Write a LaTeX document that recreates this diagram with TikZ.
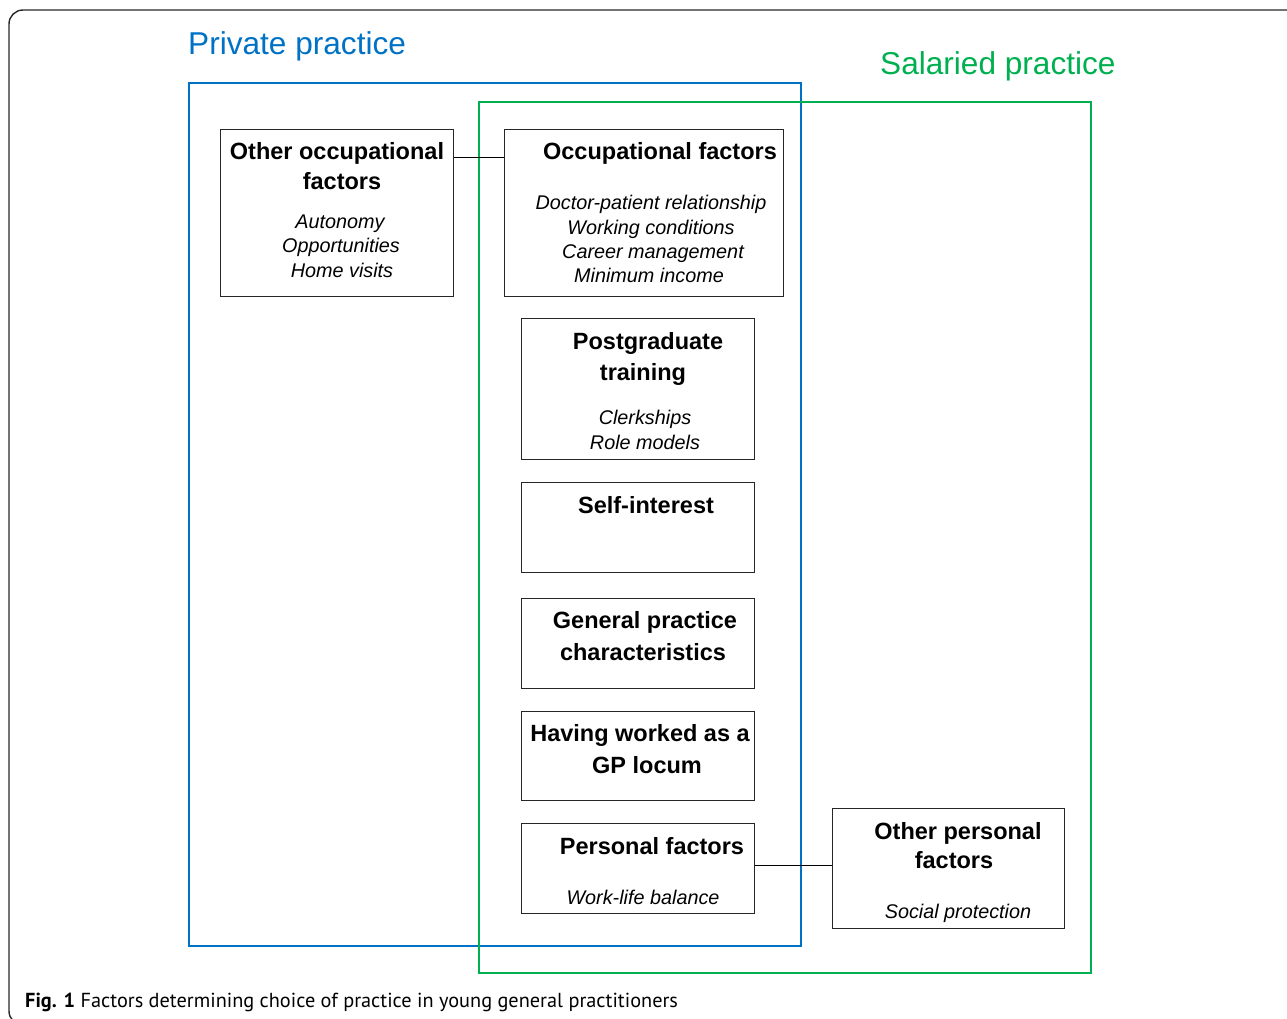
\documentclass[tikz,border=0pt]{standalone}
\usepackage{fontspec}
\setmainfont{Liberation Sans}
\newfontfamily\capfont{PT Sans}
\definecolor{ppblue}{RGB}{0,114,198}
\definecolor{spgreen}{RGB}{0,176,80}
\definecolor{frame}{RGB}{40,40,40}
\begin{document}
\begin{tikzpicture}[x=1pt,y=-1pt,
  box/.style={draw=black!85,line width=1pt,anchor=north west,inner sep=0pt},
  ttl/.style={anchor=base,inner sep=0pt,font=\fontsize{23.5}{28}\selectfont\bfseries},
  itm/.style={anchor=base,inner sep=0pt,font=\fontsize{19.8}{24}\selectfont\itshape},
  grp/.style={anchor=base west,inner sep=0pt,font=\fontsize{31.6}{36}\selectfont},
  conn/.style={draw=black,line width=1pt}]
\useasboundingbox (0,0) rectangle (1287,1018);
% outer frame
\draw[frame,line width=1.4pt,rounded corners=14pt] (1300,10) -- (9,10) -- (9,1025) -- (60,1025);
% group titles
\node[grp,text=ppblue] (tpriv) at (188,54) {Private practice};
\node[grp,text=spgreen] (tsal) at (880,74) {Salaried practice};
% group rectangles
\draw[ppblue,line width=2pt] (189,83) rectangle (801,946);
\draw[spgreen,line width=2pt] (479,102) rectangle (1091,973);
% boxes
\node[box,minimum width=233pt,minimum height=167pt] (ooc) at (220,129) {};
\node[box,minimum width=279pt,minimum height=167pt] (occ) at (504,129) {};
\node[box,minimum width=233pt,minimum height=141pt] (pgt) at (521,318) {};
\node[box,minimum width=233pt,minimum height=90pt] (sel) at (521,482) {};
\node[box,minimum width=233pt,minimum height=90pt] (gpc) at (521,598) {};
\node[box,minimum width=233pt,minimum height=89pt] (loc) at (521,711) {};
\node[box,minimum width=233pt,minimum height=90pt] (per) at (521,823) {};
\node[box,minimum width=232pt,minimum height=120pt] (opf) at (832,808) {};
% connectors
\draw[conn] (ooc.east |- 0,157) coordinate (c1) -- (occ.west |- c1);
\draw[conn] (per.east |- 0,865) coordinate (c2) -- (opf.west |- c2);
% texts: other occupational factors
\node[ttl] (t1a) at (337,159.5) {Other occupational};
\node[ttl] (t1b) at (342,189.5) {factors};
\node[itm] (i1a) at (340,228) {Autonomy};
\node[itm] (i1b) at (341,252) {Opportunities};
\node[itm] (i1c) at (342,277) {Home visits};
% occupational factors
\node[ttl] (t2a) at (660,159.5) {Occupational factors};
\node[itm] (i2a) at (651,209) {Doctor-patient relationship};
\node[itm] (i2b) at (651,234) {Working conditions};
\node[itm] (i2c) at (653,258) {Career management};
\node[itm] (i2d) at (649,282) {Minimum income};
% postgraduate training
\node[ttl] (t3a) at (648,349.5) {Postgraduate};
\node[ttl] (t3b) at (643,380.5) {training};
\node[itm] (i3a) at (645,424) {Clerkships};
\node[itm] (i3b) at (645,449) {Role models};
% self-interest
\node[ttl] (t4a) at (646,513.5) {Self-interest};
% general practice characteristics
\node[ttl] (t5a) at (645,628.5) {General practice};
\node[ttl] (t5b) at (643,660.5) {characteristics};
% GP locum
\node[ttl] (t6a) at (640,741.5) {Having worked as a};
\node[ttl] (t6b) at (647,773.5) {GP locum};
% personal factors
\node[ttl] (t7a) at (652,854.5) {Personal factors};
\node[itm] (i7a) at (643,904) {Work-life balance};
% other personal factors
\node[ttl] (t8a) at (958,839.5) {Other personal};
\node[ttl] (t8b) at (954,868.5) {factors};
\node[itm] (i8a) at (958,918) {Social protection};
% caption
\node[anchor=base west,inner sep=0pt,font=\capfont\fontsize{20.3}{24}\selectfont] (cap) at (25,1007)
  {\textbf{Fig. 1} Factors determining choice of practice in young general practitioners};
\end{tikzpicture}
\end{document}
